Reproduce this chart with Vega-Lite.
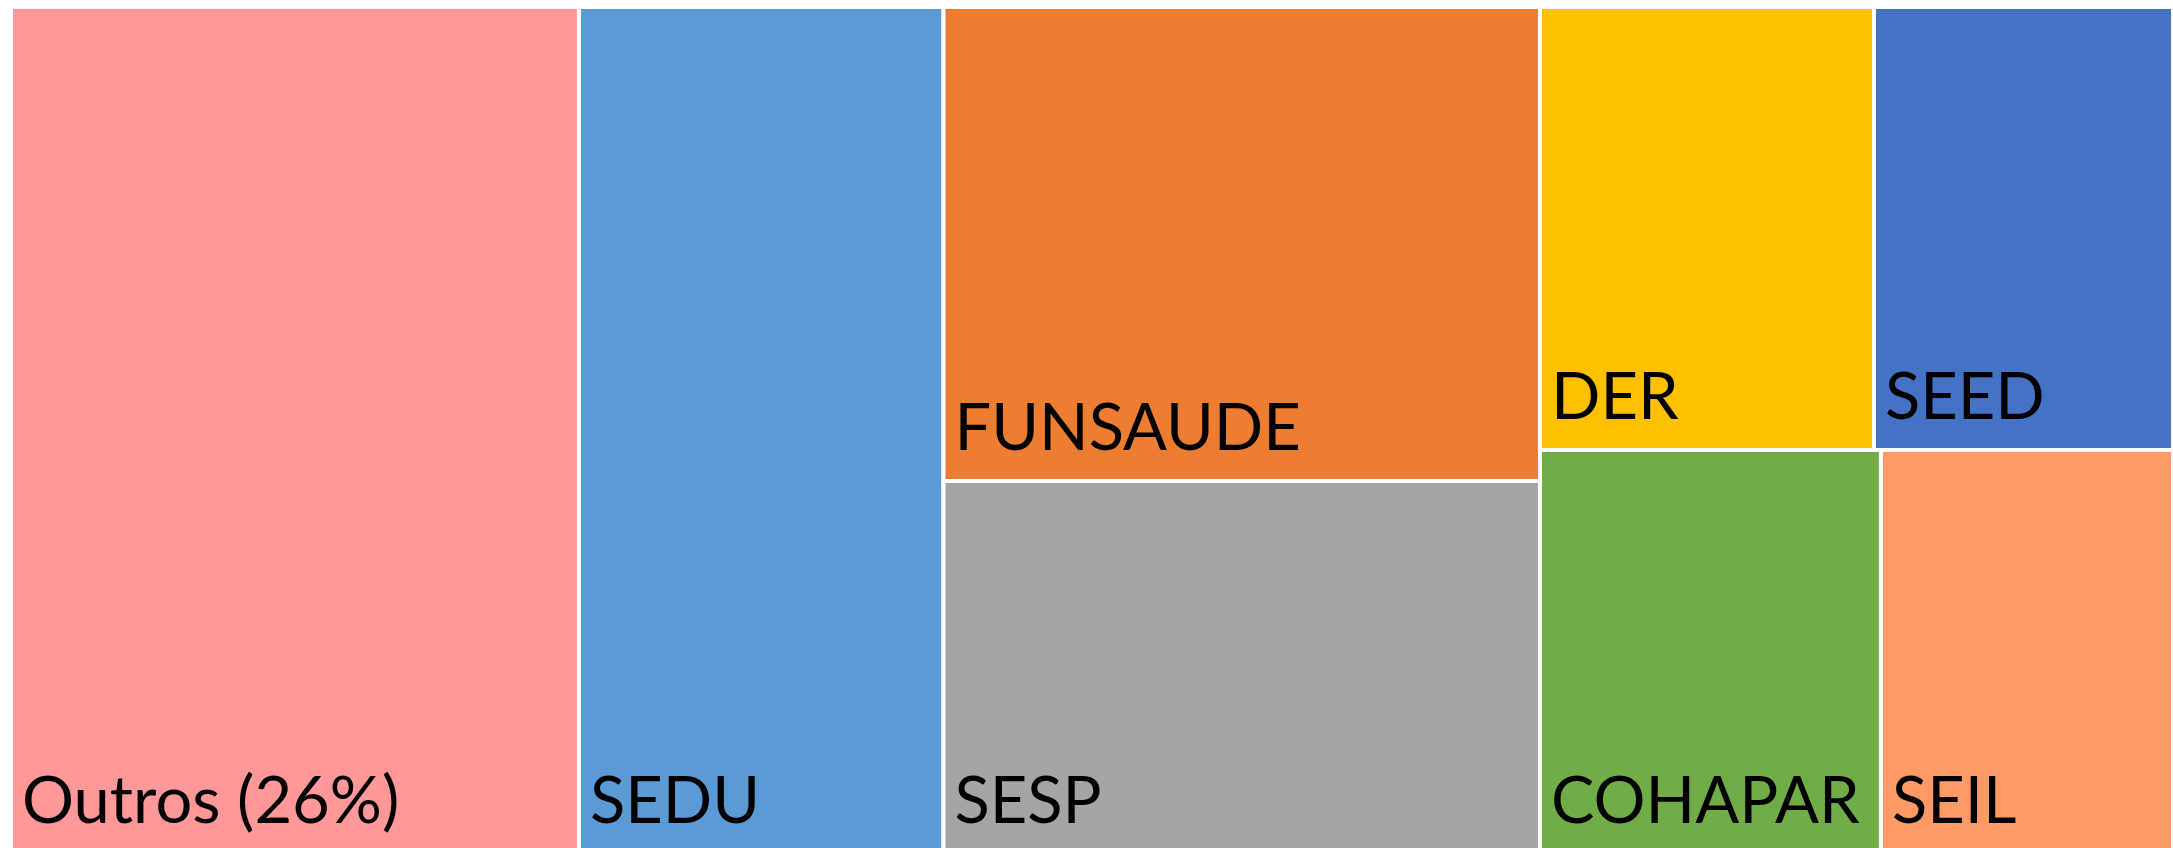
{
  "$schema": "https://vega.github.io/schema/vega-lite/v6.json",
  "width": 2162,
  "height": 841,
  "autosize": {"type": "none"},
  "padding": {"left": 11, "top": 7, "right": 0, "bottom": 0},
  "background": "white",
  "config": {"view": {"stroke": null}},
  "data": {
    "values": [
      {"name": "Outros", "label": "Outros (26%)", "x0": 0, "x1": 26.27, "y0": 0, "y1": 100},
      {"name": "SEDU", "label": "SEDU", "x0": 26.27, "x1": 43.13, "y0": 0, "y1": 100},
      {"name": "FUNSAUDE", "label": "FUNSAUDE", "x0": 43.13, "x1": 70.72, "y0": 0, "y1": 55.96},
      {"name": "SESP", "label": "SESP", "x0": 43.13, "x1": 70.72, "y0": 55.96, "y1": 100},
      {"name": "DER", "label": "DER", "x0": 70.72, "x1": 86.17, "y0": 0, "y1": 52.3},
      {"name": "SEED", "label": "SEED", "x0": 86.17, "x1": 100, "y0": 0, "y1": 52.3},
      {"name": "COHAPAR", "label": "COHAPAR", "x0": 70.72, "x1": 86.49, "y0": 52.3, "y1": 100},
      {"name": "SEIL", "label": "SEIL", "x0": 86.49, "x1": 100, "y0": 52.3, "y1": 100}
    ]
  },
  "layer": [
    {
      "mark": {"type": "rect", "stroke": "white", "strokeWidth": 4, "clip": true},
      "encoding": {
        "x": {"field": "x0", "type": "quantitative", "scale": {"domain": [0, 100], "nice": false, "zero": false}, "axis": null},
        "x2": {"field": "x1"},
        "y": {"field": "y0", "type": "quantitative", "scale": {"domain": [0, 99.29], "nice": false, "zero": false, "reverse": true}, "axis": null},
        "y2": {"field": "y1"},
        "color": {
          "field": "name",
          "type": "nominal",
          "scale": {
            "domain": ["Outros", "SEDU", "FUNSAUDE", "SESP", "DER", "SEED", "COHAPAR", "SEIL"],
            "range": ["#FF9999", "#5B9BD5", "#ED7D31", "#A5A5A5", "#FFC000", "#4472C4", "#70AD47", "#FF9966"]
          },
          "legend": null
        },
        "opacity": {"value": 1}
      }
    },
    {
      "mark": {"type": "text", "font": "Lato", "fontSize": 65, "fontWeight": "normal", "color": "#000000", "align": "left", "baseline": "alphabetic", "dx": 11, "dy": -31, "clip": true},
      "encoding": {
        "x": {"field": "x0", "type": "quantitative", "scale": {"domain": [0, 100], "nice": false, "zero": false}, "axis": null},
        "y": {"field": "y1", "type": "quantitative", "scale": {"domain": [0, 99.29], "nice": false, "zero": false, "reverse": true}, "axis": null},
        "text": {"field": "label"}
      }
    }
  ]
}
